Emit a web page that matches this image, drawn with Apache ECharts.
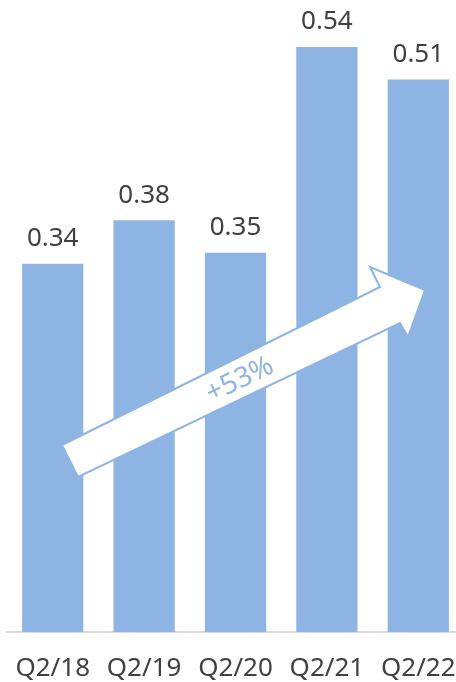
<!DOCTYPE html>
<html>
<head>
<meta charset="utf-8">
<style>
  html, body { margin: 0; padding: 0; background: #ffffff; overflow: hidden; }
  #chart { width: 464px; height: 682px; }
</style>
<script src="https://cdn.jsdelivr.net/npm/echarts@6/dist/echarts.min.js"></script>
</head>
<body>
<div id="chart"></div>
<script>
// Quarterly values shown above each bar
const quarters = ['Q2/18', 'Q2/19', 'Q2/20', 'Q2/21', 'Q2/22'];
const values = [0.34, 0.38, 0.35, 0.54, 0.51];
const growthLabel = '+53%';

const barColor = '#8EB4E3';
const textColor = '#404040';
const fontFamily = '"Noto Sans", "DejaVu Sans", sans-serif';

const chart = echarts.init(document.getElementById('chart'), null, { renderer: 'canvas' });

// Growth arrow drawn as a white outlined shape across the bars
const arrowPoints = [
  [62, 445], [380, 287], [370, 267], [425, 290],
  [408, 337], [400, 323], [78, 477]
];

chart.setOption({
  animation: false,
  backgroundColor: '#ffffff',
  // the plot runs slightly past the visible right edge
  grid: { left: 7, top: 0, right: 0, height: 632, containLabel: false },
  xAxis: {
    type: 'category',
    data: quarters,
    axisTick: { show: false },
    axisLine: { show: true, lineStyle: { color: '#D9D9D9', width: 2 } },
    axisLabel: {
      color: textColor,
      fontSize: 26,
      fontFamily: fontFamily,
      margin: 24,
      interval: 0
    }
  },
  yAxis: {
    type: 'value',
    min: 0,
    max: 0.5834,
    show: false,
    splitLine: { show: false }
  },
  series: [{
    type: 'bar',
    data: values,
    barCategoryGap: '33%',
    itemStyle: { color: barColor },
    label: {
      show: true,
      position: 'top',
      distance: 12,
      color: textColor,
      fontSize: 26,
      fontFamily: fontFamily,
      formatter: p => p.value.toFixed(2)
    }
  }],
  graphic: [
    {
      type: 'polygon',
      shape: { points: arrowPoints },
      style: { fill: '#ffffff', stroke: barColor, lineWidth: 2 },
      z: 100
    },
    {
      type: 'text',
      x: 240,
      y: 380,
      rotation: 25.8 * Math.PI / 180,
      style: {
        text: growthLabel,
        fill: barColor,
        fontSize: 28,
        fontFamily: fontFamily,
        align: 'center',
        verticalAlign: 'middle'
      },
      z: 101
    }
  ]
});
</script>
</body>
</html>
